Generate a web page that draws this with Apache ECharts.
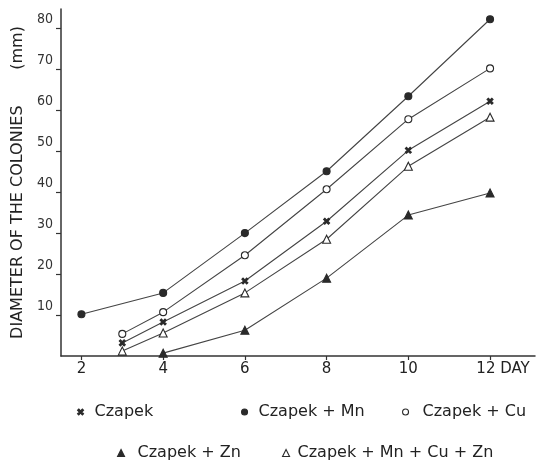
<!DOCTYPE html>
<html>
<head>
<meta charset="utf-8">
<script src="https://cdn.jsdelivr.net/npm/echarts@6/dist/echarts.min.js"></script>
<style>html,body{margin:0;padding:0;background:#fff}#c{width:537px;height:463px}</style>
</head>
<body>
<div id="c"></div>
<script>
// ---- data ----
const seriesNames = ['Czapek', 'Czapek + Mn', 'Czapek + Cu', 'Czapek + Zn', 'Czapek + Mn + Cu + Zn'];
const daysMn = [2, 4, 6, 8, 10, 12];
const daysStd = [3, 4, 6, 8, 10, 12];
const daysZn = [4, 6, 8, 10, 12];
const valCzapek = [3.2, 8.3, 18.3, 32.9, 50.2, 62.2];
const valMn = [10.2, 15.4, 30.0, 45.1, 63.4, 82.2];
const valCu = [5.4, 10.7, 24.6, 40.7, 57.8, 70.2];
const valZn = [0.7, 6.3, 19.0, 34.4, 39.8];
const valMnCuZn = [1.2, 5.6, 15.4, 28.5, 46.3, 58.3];
const xTicks = [2, 4, 6, 8, 10, 12];
const xTickLabels = ['2', '4', '6', '8', '10', '12 DAY'];
const yTicks = [10, 20, 30, 40, 50, 60, 70, 80];
const yAxisTitle = 'DIAMETER OF THE COLONIES       (mm)';

const pair = (xs, ys) => xs.map((x, i) => [x, ys[i]]);
const INK = '#2a2a2a';
const crossPath = 'path://M2,0L5,3L8,0L10,2L7,5L10,8L8,10L5,7L2,10L0,8L3,5L0,2Z';

const symbols = [
  {symbol: crossPath, size: 6, lsize: 6, fill: INK},
  {symbol: 'circle', size: 7, lsize: 6, fill: INK},
  {symbol: 'circle', size: 7, lsize: 6, fill: '#fff'},
  {symbol: 'triangle', size: 8, lsize: 7, fill: INK},
  {symbol: 'triangle', size: 8, lsize: 7, fill: '#fff'}
];
const dataSets = [
  pair(daysStd, valCzapek),
  pair(daysMn, valMn),
  pair(daysStd, valCu),
  pair(daysZn, valZn),
  pair(daysStd, valMnCuZn)
];

const series = seriesNames.map((n, i) => ({
  name: n,
  type: 'line',
  data: dataSets[i],
  symbol: symbols[i].symbol,
  symbolSize: symbols[i].size,
  showAllSymbol: true,
  lineStyle: {color: '#444', width: 1.1},
  itemStyle: {color: symbols[i].fill, borderColor: INK, borderWidth: 1.1},
  animation: false,
  z: 3
}));

// legend placement: [left, top, text padding]
const legendPos = [[77, 404, 4], [241, 404, 4], [402, 404, 7], [117, 445, 7], [282, 445, 2]];
const legends = seriesNames.map((n, i) => ({
  left: legendPos[i][0],
  top: legendPos[i][1],
  padding: 0,
  itemWidth: symbols[i].lsize,
  itemHeight: symbols[i].lsize,
  selectedMode: false,
  textStyle: {fontFamily: 'DejaVu Sans', fontSize: 16, color: '#222', lineHeight: 16,
              padding: [0, 0, 0, legendPos[i][2] + (8 - symbols[i].lsize)]},
  data: [{
    name: n,
    icon: symbols[i].symbol,
    itemStyle: {color: symbols[i].fill, borderColor: INK, borderWidth: 1.1}
  }]
}));

const chart = echarts.init(document.getElementById('c'), null, {renderer: 'canvas'});
chart.setOption({
  backgroundColor: '#fff',
  animation: false,
  grid: {left: 61, right: 2, top: 9, bottom: 107, containLabel: false},
  legend: legends,
  xAxis: {
    type: 'value',
    min: 1.5,
    max: 13.1,
    splitLine: {show: false},
    axisLine: {lineStyle: {color: '#333', width: 1.5}},
    axisTick: {show: true, length: 4, customValues: xTicks, lineStyle: {color: '#333', width: 1.2}},
    axisLabel: {
      customValues: xTicks,
      margin: 6,
      fontFamily: 'DejaVu Sans',
      fontSize: 15,
      color: '#222',
      formatter: function (v) {
        const idx = xTicks.indexOf(v);
        const s = idx >= 0 ? xTickLabels[idx] : '';
        return idx === xTicks.length - 1 ? '{d|' + s + '}' : s;
      },
      rich: {d: {fontFamily: 'DejaVu Sans', fontSize: 15, color: '#222', padding: [0, 0, 0, 26]}}
    }
  },
  yAxis: {
    type: 'value',
    min: 0,
    max: 84.7,
    splitLine: {show: false},
    axisLine: {lineStyle: {color: '#333', width: 1.5}},
    axisTick: {show: true, length: 5, customValues: yTicks, lineStyle: {color: '#333', width: 1.2}},
    axisLabel: {
      customValues: yTicks,
      margin: 8,
      fontFamily: 'DejaVu Sans Condensed',
      fontSize: 14,
      color: '#333',
      verticalAlign: 'bottom',
      padding: [0, 0, 2, 0]
    },
    name: yAxisTitle,
    nameLocation: 'middle',
    nameGap: 34,
    nameTextStyle: {fontFamily: 'DejaVu Sans', fontSize: 16, color: '#222'}
  },
  series: series
});
</script>
</body>
</html>
